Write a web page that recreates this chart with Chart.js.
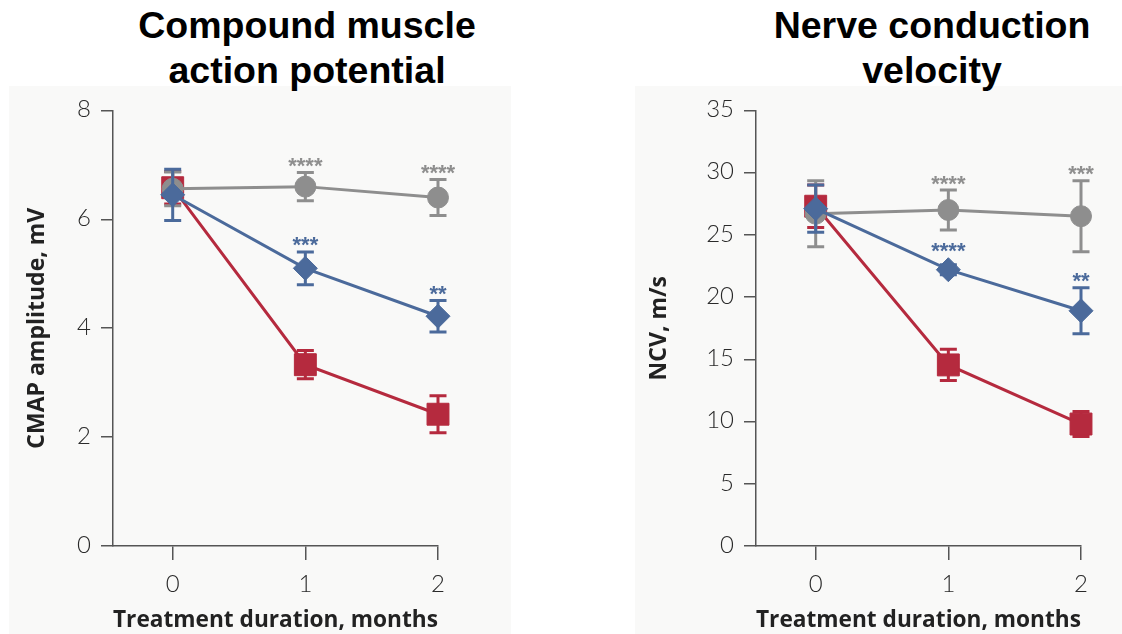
<!DOCTYPE html>
<html>
<head>
<meta charset="utf-8">
<script src="https://cdn.jsdelivr.net/npm/chart.js@4.4.0/dist/chart.umd.min.js"></script>
<style>
  body { margin: 0; background: #fff; width: 1122px; height: 634px; overflow: hidden; position: relative; font-family: "Liberation Sans", Arial, sans-serif; }
  .panel { position: absolute; background: #f9f9f8; }
  .title { position: absolute; text-align: center; font-weight: bold; font-size: 37.5px; line-height: 45px; color: #000; }
  .box { position: absolute; }
</style>
</head>
<body>
<div class="panel" style="left:9px; top:86px; width:502px; height:548px;"></div>
<div class="panel" style="left:635px; top:86px; width:487px; height:548px;"></div>

<div class="title" style="left:107px; top:3px; width:400px;">Compound muscle<br>action potential</div>
<div class="title" style="left:732px; top:3px; width:400px;">Nerve conduction<br>velocity</div>

<div class="box" style="left:0; top:86px; width:520px; height:548px;"><canvas id="cmap"></canvas></div>
<div class="box" style="left:620px; top:86px; width:502px; height:548px;"><canvas id="ncv"></canvas></div>

<script>
// x positions (months)
const months = [0, 1, 2];

// CMAP amplitude, mV
const cmapNormal = [6.56, 6.6, 6.4];
const cmapNormalErr = [0.31, 0.26, 0.33];
const cmapTreated = [6.45, 5.1, 4.22];
const cmapTreatedErr = [0.47, 0.3, 0.29];
const cmapUntreated = [6.58, 3.33, 2.42];
const cmapUntreatedErr = [0.3, 0.26, 0.34];
const cmapNormalStars = ['', '****', '****'];
const cmapTreatedStars = ['', '***', '**'];
const cmapTicks = [0, 2, 4, 6, 8];

// NCV, m/s
const ncvNormal = [26.7, 27.0, 26.5];
const ncvNormalErr = [2.65, 1.6, 2.85];
const ncvTreated = [27.1, 22.2, 18.9];
const ncvTreatedErr = [1.9, 0.4, 1.85];
const ncvUntreated = [27.3, 14.55, 9.8];
const ncvUntreatedErr = [1.7, 1.25, 1.0];
const ncvNormalStars = ['', '****', '***'];
const ncvTreatedStars = ['', '****', '**'];
const ncvTicks = [0, 5, 10, 15, 20, 25, 30, 35];

const GRAY = '#8e8e8e';
const BLUE = '#4b6a9b';
const RED = '#b52a3e';
const AXIS = '#555';

const toXY = vals => vals.map((v, i) => ({ x: months[i], y: v }));

// error bars, drawn under each dataset's own markers
const errorBars = {
    id: 'errorBars',
    beforeDatasetDraw(chart, args) {
        const ds = chart.data.datasets[args.index];
        if (!ds.errors) return;
        const { ctx, scales: { x, y } } = chart;
        ctx.save();
        ctx.strokeStyle = ds.borderColor;
        ctx.lineWidth = 3;
        ds.data.forEach((p, i) => {
            const px = x.getPixelForValue(p.x);
            const top = y.getPixelForValue(p.y + ds.errors[i]);
            const bot = y.getPixelForValue(p.y - ds.errors[i]);
            ctx.beginPath();
            ctx.moveTo(px, top); ctx.lineTo(px, bot);
            ctx.moveTo(px - 8.5, top); ctx.lineTo(px + 8.5, top);
            ctx.moveTo(px - 8.5, bot); ctx.lineTo(px + 8.5, bot);
            ctx.stroke();
        });
        ctx.restore();
    },
    afterDatasetsDraw(chart) {
        const { ctx, scales: { x, y } } = chart;
        ctx.save();
        ctx.font = 'bold 22px "Liberation Sans", Arial, sans-serif';
        ctx.textAlign = 'center';
        ctx.textBaseline = 'alphabetic';
        chart.data.datasets.forEach(ds => {
            if (!ds.stars) return;
            ctx.fillStyle = ds.borderColor;
            ds.data.forEach((p, i) => {
                if (!ds.stars[i]) return;
                const px = x.getPixelForValue(p.x);
                const top = Math.min(y.getPixelForValue(p.y + ds.errors[i]), y.getPixelForValue(p.y) - ds.pointRadius);
                ctx.fillText(ds.stars[i], px, top + 0.5);
            });
        });
        ctx.restore();
    }
};

function makeChart(id, opts) {
    const tickFont = { family: 'Lato', size: 24, weight: '300' };
    const titleFont = { family: 'Open Sans', size: 23, weight: 'bold' };
    return new Chart(document.getElementById(id), {
        type: 'line',
        data: {
            datasets: [
                {
                    data: toXY(opts.treated), errors: opts.treatedErr, stars: opts.treatedStars,
                    borderColor: BLUE, backgroundColor: BLUE, borderWidth: 3,
                    pointStyle: 'rectRot', pointRadius: 12, pointBorderWidth: 1
                },
                {
                    data: toXY(opts.normal), errors: opts.normalErr, stars: opts.normalStars,
                    borderColor: GRAY, backgroundColor: GRAY, borderWidth: 3,
                    pointStyle: 'circle', pointRadius: 10.5, pointBorderWidth: 1
                },
                {
                    data: toXY(opts.untreated), errors: opts.untreatedErr,
                    borderColor: RED, backgroundColor: RED, borderWidth: 3,
                    pointStyle: 'rect', pointRadius: 15.5, pointBorderWidth: 1
                }
            ]
        },
        options: {
            responsive: true,
            maintainAspectRatio: false,
            animation: false,
            clip: false,
            layout: { padding: { top: 19, right: opts.padRight, left: 0, bottom: 0 } },
            plugins: { legend: { display: false }, tooltip: { enabled: false } },
            scales: {
                x: {
                    type: 'linear',
                    min: -0.45,
                    max: 2,
                    afterBuildTicks: s => { s.ticks = months.map(v => ({ value: v })); },
                    afterFit: s => { s.height = 88; },
                    ticks: { font: tickFont, color: '#2a2a2a', padding: 10 },
                    grid: { drawOnChartArea: false, tickLength: 14, color: AXIS, lineWidth: 1.5 },
                    border: { color: AXIS, width: 1.5 },
                    title: { display: true, text: 'Treatment duration, months', font: titleFont, color: '#222', padding: { top: 0, bottom: 0 } }
                },
                y: {
                    min: opts.yTicks[0],
                    max: opts.yTicks[opts.yTicks.length - 1],
                    afterBuildTicks: s => { s.ticks = opts.yTicks.map(v => ({ value: v })); },
                    afterFit: s => { s.width = opts.yWidth; },
                    ticks: { font: tickFont, color: '#2a2a2a', padding: 10, labelOffset: -1 },
                    grid: { drawOnChartArea: false, tickLength: 12, color: AXIS, lineWidth: 1.5 },
                    border: { color: AXIS, width: 1.5 },
                    title: { display: true, text: opts.yTitle, font: titleFont, color: '#222', padding: { top: opts.yTitlePad, bottom: 0 } }
                }
            }
        },
        plugins: [errorBars]
    });
}

makeChart('cmap', {
    normal: cmapNormal, normalErr: cmapNormalErr, normalStars: cmapNormalStars,
    treated: cmapTreated, treatedErr: cmapTreatedErr, treatedStars: cmapTreatedStars,
    untreated: cmapUntreated, untreatedErr: cmapUntreatedErr,
    yTicks: cmapTicks, yTitle: 'CMAP amplitude, mV',
    yWidth: 113, yTitlePad: 24, padRight: 82
});

makeChart('ncv', {
    normal: ncvNormal, normalErr: ncvNormalErr, normalStars: ncvNormalStars,
    treated: ncvTreated, treatedErr: ncvTreatedErr, treatedStars: ncvTreatedStars,
    untreated: ncvUntreated, untreatedErr: ncvUntreatedErr,
    yTicks: ncvTicks, yTitle: 'NCV, m/s',
    yWidth: 136, yTitlePad: 26, padRight: 41
});
</script>
</body>
</html>
